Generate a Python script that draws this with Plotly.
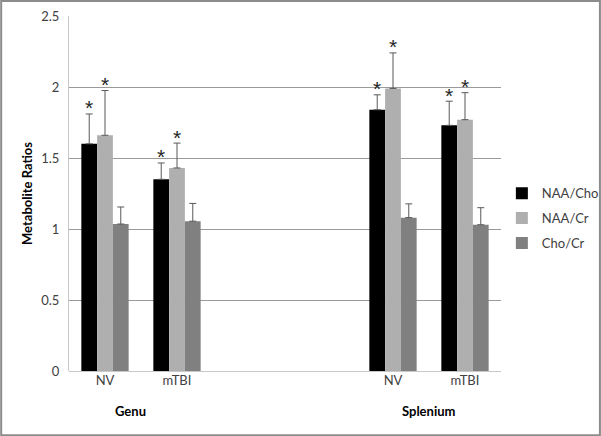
import plotly.graph_objects as go

# Category slots: two regions with a gap of two empty slots in between
regions = ["Genu", "Splenium"]
groups = ["NV", "mTBI"]
slots = [0, 1, 4, 5]
region_centers = [0.35, 4.5]

# Bar heights
naa_cho = [1.60, 1.35, 1.84, 1.73]
naa_cr = [1.66, 1.43, 1.99, 1.77]
cho_cr = [1.035, 1.055, 1.08, 1.03]

# Upper error bars (SD)
naa_cho_err = [0.21, 0.115, 0.105, 0.17]
naa_cr_err = [0.315, 0.175, 0.25, 0.19]
cho_cr_err = [0.12, 0.125, 0.097, 0.12]

series = [
    ("NAA/Cho", naa_cho, naa_cho_err, "#000000"),
    ("NAA/Cr", naa_cr, naa_cr_err, "#AFAFAF"),
    ("Cho/Cr", cho_cr, cho_cr_err, "#808080"),
]

FONT = "Lato, 'Open Sans', sans-serif"
TXT = "#404040"

fig = go.Figure()
for i, (name, vals, errs, col) in enumerate(series):
    fig.add_trace(go.Bar(
        x=slots,
        y=vals,
        name=name,
        marker=dict(color=col, line=dict(width=0)),
        legendgroup="g" + str(i),
        error_y=dict(type="data", symmetric=False, array=errs,
                     arrayminus=[0] * len(errs), color="#595959",
                     thickness=1, width=3.5),
    ))

# Significance asterisks above the NAA bars
bar_px = 15.7
for name, vals, errs, shift in [("NAA/Cho", naa_cho, naa_cho_err, -bar_px),
                                ("NAA/Cr", naa_cr, naa_cr_err, 0)]:
    for s, v, e in zip(slots, vals, errs):
        fig.add_annotation(x=s, y=v + e, text="*", showarrow=False,
                           xshift=shift, yshift=6,
                           font=dict(size=21, color="#262626",
                                     family="Liberation Sans, Arial"))

# Region labels under the category ticks
for r, c in zip(regions, region_centers):
    fig.add_annotation(x=c, y=0, yref="y", text="<b>" + r + "</b>",
                       showarrow=False, yshift=-40,
                       font=dict(size=13, color="#000000", family=FONT))

# Outer chart border
fig.add_shape(type="rect", xref="paper", yref="paper",
              x0=-0.157, x1=1.229, y0=-0.181, y1=1.042,
              line=dict(color="#8C8C8C", width=2))

fig.update_layout(
    width=601, height=436,
    margin=dict(l=69, r=100, t=16, b=65, autoexpand=False),
    paper_bgcolor="white", plot_bgcolor="white",
    barmode="group", bargap=0.343, bargroupgap=0,
    font=dict(family=FONT, size=13, color=TXT),
    showlegend=True,
    legend=dict(x=1.002, y=0.543, xanchor="left", yanchor="top",
                traceorder="grouped", tracegroupgap=5,
                font=dict(size=13, color=TXT, family=FONT),
                itemwidth=30, bgcolor="rgba(0,0,0,0)"),
    xaxis=dict(range=[-0.5, 5.5], tickmode="array",
               tickvals=slots, ticktext=groups * 2,
               showgrid=False, zeroline=False, ticks="",
               showline=False, tickfont=dict(size=13, color=TXT)),
    yaxis=dict(range=[0, 2.5], dtick=0.5, tickformat="~g",
               showgrid=True, gridcolor="#9A9A9A", gridwidth=1,
               zeroline=True, zerolinecolor="#C8C8C8", zerolinewidth=1,
               showline=True, linecolor="#C8C8C8", linewidth=1,
               ticks="outside", ticklen=6, tickcolor="rgba(0,0,0,0)",
               tickfont=dict(size=13, color=TXT),
               title=dict(text="<b>Metabolite Ratios</b>", standoff=5,
                          font=dict(size=13, color="#000000", family=FONT))),
)

# the page body has a default margin that would shift the chart
fig.write_html("out.html", config={"displayModeBar": False},
               post_script="document.body.style.margin='0';")
